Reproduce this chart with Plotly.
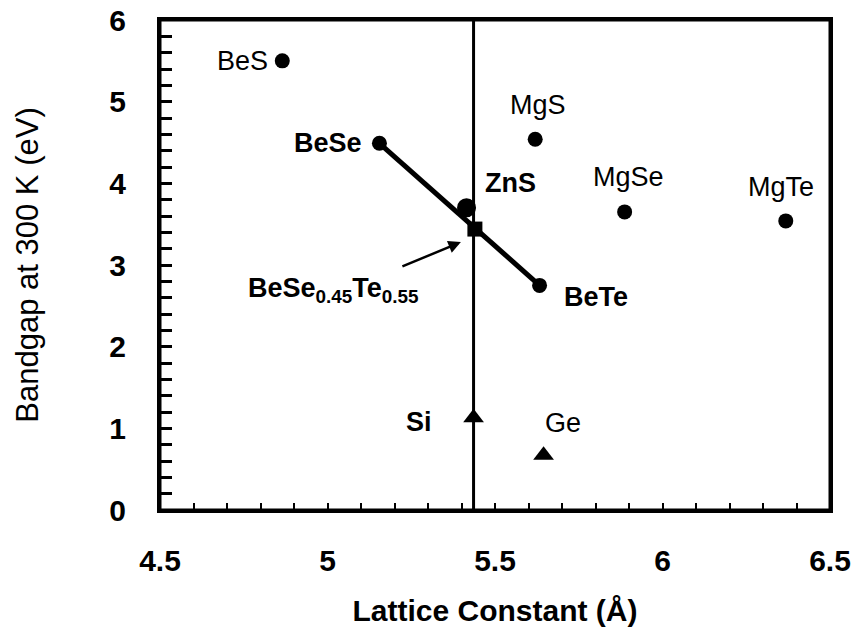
import plotly.graph_objects as go

# Data
compounds = ["BeS", "BeSe", "BeTe", "ZnS", "MgS", "MgSe", "MgTe"]
lattice = [4.865, 5.155, 5.633, 5.415, 5.62, 5.887, 6.368]
bandgap = [5.50, 4.49, 2.75, 3.70, 4.54, 3.65, 3.54]

elements = ["Si", "Ge"]
elem_lattice = [5.436, 5.645]
elem_gap = [1.13, 0.67]

alloy_name = "BeSe<sub>0.45</sub>Te<sub>0.55</sub>"
alloy_lattice = [5.44]
alloy_gap = [3.44]

tie_x = [5.155, 5.633]      # BeSe -> BeTe
tie_y = [4.49, 2.75]
si_line_x = [5.436, 5.436]
si_line_y = [0, 6]

FONT = "Liberation Sans, Arial, Helvetica, sans-serif"

fig = go.Figure()

fig.add_trace(go.Scatter(x=si_line_x, y=si_line_y, mode="lines",
                         line=dict(color="black", width=3), hoverinfo="skip"))
fig.add_trace(go.Scatter(x=tie_x, y=tie_y, mode="lines",
                         line=dict(color="black", width=5), hoverinfo="skip"))
sizes = [15, 15, 15, 19, 15, 15, 15]
fig.add_trace(go.Scatter(x=lattice, y=bandgap, mode="markers", text=compounds,
                         marker=dict(symbol="circle", size=sizes, color="black",
                                     opacity=1, line=dict(width=0))))
fig.add_trace(go.Scatter(x=alloy_lattice, y=alloy_gap, mode="markers",
                         marker=dict(symbol="square", size=15, color="black",
                                     opacity=1, line=dict(width=0))))
fig.add_trace(go.Scatter(x=elem_lattice, y=elem_gap, mode="markers", text=elements,
                         marker=dict(symbol="triangle-up", size=18, color="black",
                                     opacity=1, line=dict(width=0))))

# label placement (pixel offsets) and weight
label_style = {
    "BeS":  dict(xanchor="right", xshift=-12, yshift=0, bold=False),
    "BeSe": dict(xanchor="right", xshift=-15, yshift=0, bold=True),
    "BeTe": dict(xanchor="left", xshift=22, yshift=-12, bold=True),
    "ZnS":  dict(xanchor="left", xshift=16, yshift=25, bold=True),
    "MgS":  dict(xanchor="center", xshift=3, yshift=34, bold=False),
    "MgSe": dict(xanchor="center", xshift=4, yshift=35, bold=False),
    "MgTe": dict(xanchor="center", xshift=-5, yshift=34, bold=False),
    "Si":   dict(xanchor="right", xshift=-40, yshift=-4, bold=True),
    "Ge":   dict(xanchor="center", xshift=19, yshift=32, bold=False),
}
anns = []
for name, xv, yv in list(zip(compounds, lattice, bandgap)) + list(zip(elements, elem_lattice, elem_gap)):
    s = label_style[name]
    txt = f"<b>{name}</b>" if s["bold"] else name
    anns.append(dict(x=xv, y=yv, text=txt, showarrow=False, xanchor=s["xanchor"],
                     yanchor="middle", xshift=s["xshift"], yshift=s["yshift"],
                     font=dict(family=FONT, size=27, color="black")))

anns.append(dict(x=alloy_lattice[0], y=alloy_gap[0], text=f"<b>{alloy_name}</b>",
                 showarrow=False, xanchor="right", yanchor="middle",
                 xshift=-54, yshift=-61, font=dict(family=FONT, size=27, color="black")))
anns.append(dict(x=alloy_lattice[0], y=alloy_gap[0], text="", showarrow=True,
                 arrowhead=2, arrowsize=1, arrowwidth=2.5, arrowcolor="black",
                 ax=-60, ay=25, xshift=-14, yshift=-13))

fig.update_layout(
    template="none",
    width=854, height=639,
    margin=dict(l=160, r=24, t=20, b=129),
    paper_bgcolor="white", plot_bgcolor="white",
    showlegend=False,
    font=dict(family=FONT, color="black"),
    annotations=anns,
    shapes=[dict(type="rect", xref="paper", yref="paper", x0=0, x1=1, y0=0, y1=1,
                 line=dict(color="black", width=3), layer="above")],
)

fig.update_xaxes(
    automargin=False,
    range=[4.5, 6.5], tickvals=[4.5, 5, 5.5, 6, 6.5], ticktext=["4.5", "5", "5.5", "6", "6.5"],
    showline=True, linecolor="black", linewidth=3, mirror=True,
    ticks="inside", ticklen=7, tickwidth=2, tickcolor="black",
    minor=dict(dtick=0.1, ticks="inside", ticklen=7, tickwidth=2, tickcolor="black"),
    showgrid=False, zeroline=False,
    tickfont=dict(family=FONT, size=30, color="black", weight="bold"),
    ticklabelstandoff=22, ticklabeloverflow="allow",
    title=dict(text="<b>Lattice Constant (Å)</b>", standoff=24,
               font=dict(family=FONT, size=30, color="black")),
)
fig.update_yaxes(
    automargin=False,
    range=[0, 6], tickvals=[0, 1, 2, 3, 4, 5, 6],
    showline=True, linecolor="black", linewidth=3, mirror=True,
    ticks="inside", ticklen=12, tickwidth=3, tickcolor="black",
    minor=dict(dtick=0.2, ticks="inside", ticklen=12, tickwidth=3, tickcolor="black"),
    showgrid=False, zeroline=False,
    tickfont=dict(family=FONT, size=30, color="black", weight="bold"),
    ticklabelstandoff=25, ticklabeloverflow="allow",
    title=dict(text="Bandgap at 300 K (eV)", standoff=62,
               font=dict(family=FONT, size=31, color="black")),
)

fig.write_html("out.html", config={"displayModeBar": False},
               post_script="document.body.style.margin='0';document.body.style.overflow='hidden';")
